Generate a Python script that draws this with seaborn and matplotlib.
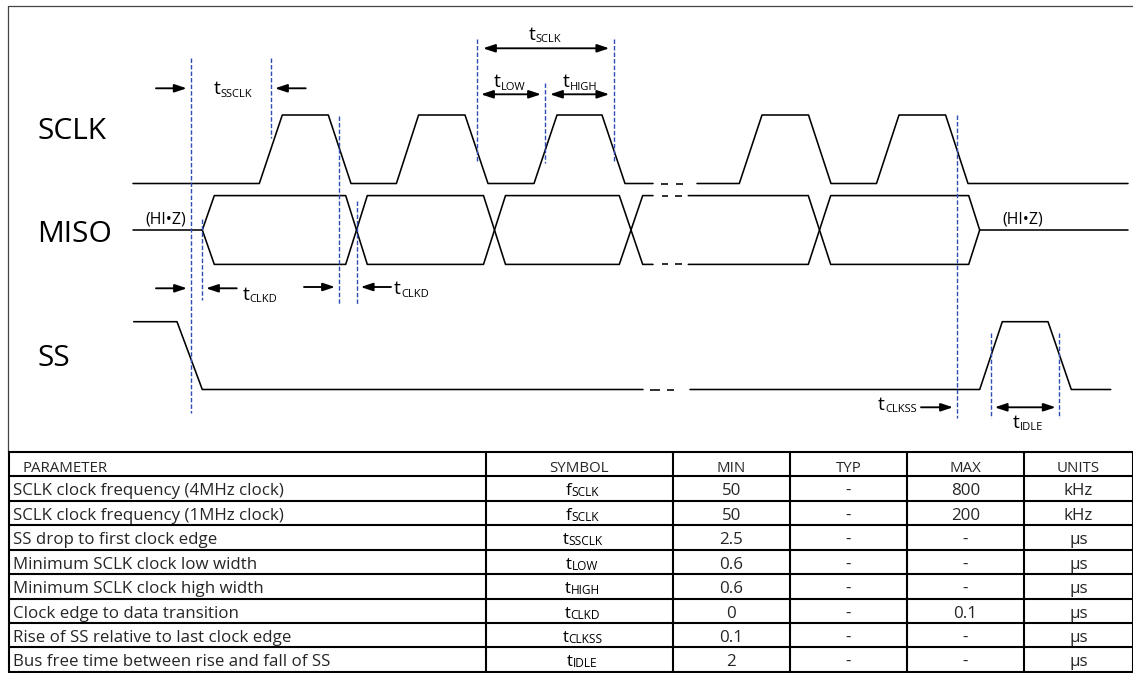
import matplotlib
matplotlib.use("Agg")
import matplotlib.pyplot as plt
import seaborn as sns

# ---------------- waveform data (time axis in diagram units) ----------------
SCLK_T1 = [133, 259.3, 282.3, 328.3, 351, 396.4, 418.6, 465, 488, 534, 557, 602, 625, 653]
SCLK_L1 = [0, 0, 1, 1, 0, 0, 1, 1, 0, 0, 1, 1, 0, 0]
SCLK_GAPS = [(661, 668), (676, 683)]
SCLK_T2 = [697, 739.3, 762, 808.5, 831, 876.5, 899, 945.6, 968, 1128]
SCLK_L2 = [0, 0, 1, 1, 0, 0, 1, 1, 0, 0]

MISO_A1_T = [133, 202.3, 214.3, 345.7, 367.3, 483.5, 505.5, 619.3, 642.7, 653]
MISO_A1_L = [0, 0, 1, 1, -1, -1, 1, 1, -1, -1]
MISO_B1_T = [202.3, 214.3, 345.7, 367.3, 483.5, 505.5, 619.3, 642.7, 653]
MISO_B1_L = [0, -1, -1, 1, 1, -1, -1, 1, 1]
MISO_GAPS = [(661.7, 668.3), (675, 681.7)]
MISO_A2_T = [688.3, 808.3, 830.7, 968.7, 979.7, 1128]
MISO_A2_L = [-1, -1, 1, 1, 0, 0]
MISO_B2_T = [688.3, 808.3, 830.7, 968.7, 979.7]
MISO_B2_L = [1, 1, -1, -1, 0]

SS_T1 = [133.7, 177, 202.3, 643]
SS_L1 = [1, 1, 0, 0]
SS_GAPS = [(650, 660), (667, 674)]
SS_T2 = [690, 979.7, 1002.3, 1048, 1071.3, 1110.7]
SS_L2 = [0, 0, 1, 1, 0, 0]

# timing markers (blue dashed lines): x, top, bottom
MARK_X = [190.7, 271, 339.3, 202.3, 356.7, 476.8, 545.4, 614, 956.7, 990.7, 1059.3]
MARK_Y0 = [58, 58, 116, 219, 201, 39, 82.7, 39, 115, 333, 333]
MARK_Y1 = [413, 138, 304, 300, 304, 162, 162.7, 162, 418, 418, 418]

# arrows: tail x, tip x, y, style
ARROW_X0 = [156, 305.7, 483, 481, 550, 156, 236.7, 304, 391, 921, 994.7]
ARROW_X1 = [186.7, 275, 609.3, 541, 609.3, 187, 206, 335, 360.7, 953, 1055.7]
ARROW_Y = [88.3, 88.3, 48.3, 94.3, 94.3, 288.3, 288.3, 287, 287, 407.3, 407.3]
ARROW_DOUBLE = [False, False, True, True, True, False, False, False, False, False, True]

# timing labels: main, subscript, x (left), baseline y
TLAB_MAIN = ["t", "t", "t", "t", "t", "t", "t", "t"]
TLAB_SUB = ["SSCLK", "SCLK", "LOW", "HIGH", "CLKD", "CLKD", "CLKSS", "IDLE"]
TLAB_X = [214, 528.6, 494, 563, 242.7, 394, 878, 1013]
TLAB_Y = [94.5, 39.5, 87.3, 87.3, 299.5, 294.5, 410, 428]

SIG_NAMES = ["SCLK", "MISO", "SS"]
SIG_NAME_Y = [139.3, 241.7, 366]
HIZ_X = [145.7, 1002]

# ---------------- table data ----------------
COLUMNS = ["PARAMETER", "SYMBOL", "MIN", "TYP", "MAX", "UNITS"]
PARAMS = ["SCLK clock frequency (4MHz clock)",
          "SCLK clock frequency (1MHz clock)",
          "SS drop to first clock edge",
          "Minimum SCLK clock low width",
          "Minimum SCLK clock high width",
          "Clock edge to data transition",
          "Rise of SS relative to last clock edge",
          "Bus free time between rise and fall of SS"]
SYM_MAIN = ["f", "f", "t", "t", "t", "t", "t", "t"]
SYM_SUB = ["SCLK", "SCLK", "SSCLK", "LOW", "HIGH", "CLKD", "CLKSS", "IDLE"]
MINS = ["50", "50", "2.5", "0.6", "0.6", "0", "0.1", "2"]
TYPS = ["-", "-", "-", "-", "-", "-", "-", "-"]
MAXS = ["800", "200", "-", "-", "-", "0.1", "-", "-"]
UNITS = ["kHz", "kHz", "µs", "µs", "µs", "µs", "µs", "µs"]

COL_EDGES = [8.5, 486, 672.7, 790, 906.7, 1024, 1133]
ROW_EDGES = [452, 476, 500.5, 525, 549.5, 574, 598.5, 623, 647.3, 671.5]

# ---------------- drawing ----------------
sns.set_theme(style="white")
plt.rcParams["font.family"] = ["Open Sans", "DejaVu Sans"]

W, H = 1133, 673
fig = plt.figure(figsize=(W / 100, H / 100), dpi=100)
ax = fig.add_axes([0, 0, 1, 1])
LW = 1.15
renderer = fig.canvas.get_renderer()


def wave(ts, ls, base, amp):
    ys = [base - amp * v for v in ls]
    sns.lineplot(x=ts, y=ys, sort=False, estimator=None, color="black",
                 lw=LW, ax=ax)


def gaps(gs, ys):
    for a, b in gs:
        for y in ys:
            ax.plot([a, b], [y, y], color="black", lw=LW, solid_capstyle="butt")


SCLK_BASE, SCLK_AMP = 183.5, 68.5
MISO_BASE, MISO_AMP = 230, 34.4
SS_BASE, SS_AMP = 389.5, 67.8

wave(SCLK_T1, SCLK_L1, SCLK_BASE, SCLK_AMP)
gaps(SCLK_GAPS, [SCLK_BASE])
wave(SCLK_T2, SCLK_L2, SCLK_BASE, SCLK_AMP)

wave(MISO_A1_T, MISO_A1_L, MISO_BASE, MISO_AMP)
wave(MISO_B1_T, MISO_B1_L, MISO_BASE, MISO_AMP)
gaps(MISO_GAPS, [MISO_BASE - MISO_AMP, MISO_BASE + MISO_AMP])
wave(MISO_A2_T, MISO_A2_L, MISO_BASE, MISO_AMP)
wave(MISO_B2_T, MISO_B2_L, MISO_BASE, MISO_AMP)

wave(SS_T1, SS_L1, SS_BASE, SS_AMP)
gaps(SS_GAPS, [SS_BASE])
wave(SS_T2, SS_L2, SS_BASE, SS_AMP)

BLUE = "#2d4db4"
for x, y0, y1 in zip(MARK_X, MARK_Y0, MARK_Y1):
    ax.plot([x, x], [y0, y1], color=BLUE, lw=1.0, linestyle=(0, (3.2, 1.5)))

for x0, x1, y, dbl in zip(ARROW_X0, ARROW_X1, ARROW_Y, ARROW_DOUBLE):
    style = "<|-|>,head_length=0.6,head_width=0.2" if dbl else "-|>,head_length=0.6,head_width=0.2"
    ax.annotate("", xy=(x1, y), xytext=(x0, y),
                arrowprops=dict(arrowstyle=style, color="black", lw=1.35,
                                mutation_scale=12, shrinkA=0, shrinkB=0))


def sub_text(x, y, main, sub, size, subsize, drop, ha="left"):
    t1 = ax.text(x, y, main, fontsize=size, ha="left", va="baseline", color="black")
    t2 = ax.text(x, y + drop, sub, fontsize=subsize, ha="left", va="baseline", color="black")
    w1 = t1.get_window_extent(renderer).width
    w2 = t2.get_window_extent(renderer).width
    if ha == "center":
        x0 = x - (w1 + w2) / 2
    else:
        x0 = x
    t1.set_x(x0)
    t2.set_x(x0 + w1)


for m, s, x, y in zip(TLAB_MAIN, TLAB_SUB, TLAB_X, TLAB_Y):
    sub_text(x, y, m, s, 14, 8, 2.2)

for name, y in zip(SIG_NAMES, SIG_NAME_Y):
    ax.text(37.5, y, name, fontsize=21.5, va="baseline", ha="left", color="black")

for x in HIZ_X:
    ax.text(x, 224, "(HI•Z)", fontsize=11.4, va="baseline", ha="left", color="black")

# outer frame
ax.plot([7.5, 7.5], [5.5, ROW_EDGES[0]], color="#444444", lw=0.9)
ax.plot([7.5, W], [5.5, 5.5], color="#444444", lw=0.9)

# table grid
TLW = 1.5
for y in ROW_EDGES:
    ax.plot([COL_EDGES[0], COL_EDGES[-1]], [y, y], color="black", lw=TLW)
for x in COL_EDGES:
    ax.plot([x, x], [ROW_EDGES[0], ROW_EDGES[-1]], color="black", lw=TLW)

# header
hy = ROW_EDGES[1] - 4.5
ax.text(22.7, hy, COLUMNS[0], fontsize=10.8, va="baseline", ha="left")
for j in range(1, len(COLUMNS)):
    cx = (COL_EDGES[j] + COL_EDGES[j + 1]) / 2
    ax.text(cx, hy, COLUMNS[j], fontsize=10.8, va="baseline", ha="center")

# rows
for i in range(len(PARAMS)):
    by = ROW_EDGES[i + 2] - 5.2
    ax.text(12.7, by, PARAMS[i], fontsize=12.2, va="baseline", ha="left")
    sub_text((COL_EDGES[1] + COL_EDGES[2]) / 2 + 3, by, SYM_MAIN[i], SYM_SUB[i],
             12.2, 8.6, 1.0, ha="center")
    for j, vals in zip(range(2, 6), [MINS, TYPS, MAXS, UNITS]):
        cx = (COL_EDGES[j] + COL_EDGES[j + 1]) / 2
        ax.text(cx, by, vals[i], fontsize=12.2, va="baseline", ha="center")

ax.set_xlim(0, W)
ax.set_ylim(H, 0)
ax.axis("off")
fig.savefig("out.png", dpi=100)
